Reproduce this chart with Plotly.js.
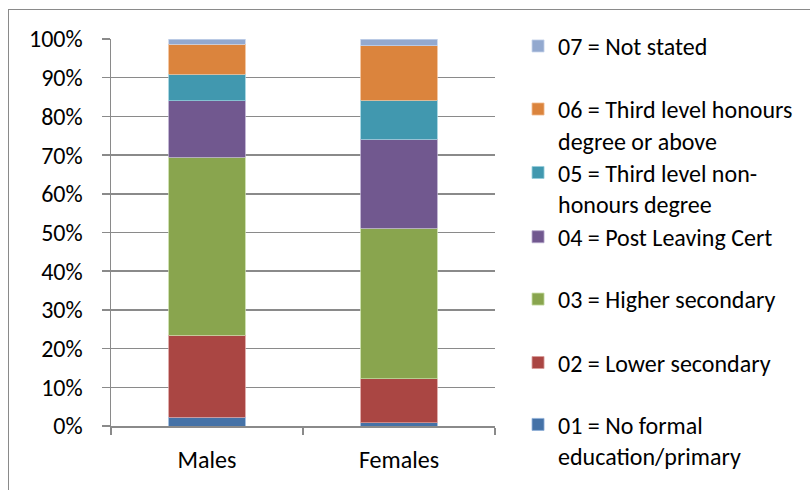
<!DOCTYPE html>
<html>
<head>
<meta charset="utf-8">
<script src="https://cdn.plot.ly/plotly-3.0.1.min.js"></script>
<style>
  html, body { margin: 0; padding: 0; background: #fff; overflow: hidden; }
  #wrap { position: relative; width: 810px; height: 490px; }
  #frame { position: absolute; left: 8px; top: 9px; width: 900px; height: 600px;
           border-left: 1.5px solid #8a8a8a; border-top: 1.5px solid #8a8a8a; pointer-events: none; }
  #chart { position: absolute; left: 0; top: 0; width: 810px; height: 490px; }
</style>
</head>
<body>
<div id="wrap">
  <div id="chart"></div>
  <div id="frame"></div>
</div>
<script>
const categories = ["Males", "Females"];
const seriesNames = [
  "01 = No formal<br>education/primary",
  "02 = Lower secondary",
  "03 = Higher secondary",
  "04 = Post Leaving Cert",
  "05 = Third level non-<br>honours degree",
  "06 = Third level honours<br>degree or above",
  "07 = Not stated"
];
const s01 = [2.3, 0.8];
const s02 = [21.2, 11.4];
const s03 = [46.0, 38.9];
const s04 = [14.6, 23.0];
const s05 = [6.8, 10.1];
const s06 = [7.8, 14.1];
const s07 = [1.3, 1.7];
const seriesValues = [s01, s02, s03, s04, s05, s06, s07];
const colors = ["#4572A7", "#AA4643", "#89A54E", "#71588F", "#4198AF", "#DB843D", "#93A9CF"];
const edgeColors = ["#8fb0d8", "#d89a98", "#c3d9a0", "#b4a5c9", "#96cddb", "#f0b98c", "#c4d2ea"];
const tickVals = [0, 10, 20, 30, 40, 50, 60, 70, 80, 90, 100];
const tickText = ["0%", "10%", "20%", "30%", "40%", "50%", "60%", "70%", "80%", "90%", "100%"];

const FONT = 'Calibri, Carlito, "Open Sans", sans-serif';
const FS = 24;
const legendIds = ["legend7", "legend6", "legend5", "legend4", "legend3", "legend2", "legend"];
// legend vertical centres (paper)
const legendY = [-0.037, 0.163, 0.327, 0.488, 0.614, 0.778, 0.981];

const traces = seriesValues.map((vals, i) => ({
  type: "bar",
  name: seriesNames[i],
  x: categories,
  y: vals,
  marker: { color: colors[i], line: { color: edgeColors[i], width: 0.8 } },
  legend: legendIds[i],
  hoverinfo: "skip"
}));

const layout = {
  width: 810, height: 490,
  margin: { l: 111, r: 314, t: 38.5, b: 61.5, pad: 0 },
  paper_bgcolor: "rgba(0,0,0,0)",
  plot_bgcolor: "#ffffff",
  barmode: "stack",
  bargap: 0.6,
  font: { family: FONT, size: FS, color: "#000000" },
  xaxis: {
    type: "category",
    showgrid: false,
    showline: true, linecolor: "#8a8a8a", linewidth: 1.5,
    ticks: "outside", tickson: "boundaries", ticklen: 7, tickcolor: "#8a8a8a", tickwidth: 1.5,
    tickfont: { family: FONT, size: FS },
    ticklabelstandoff: 12,
    fixedrange: true
  },
  yaxis: {
    range: [0, 100],
    tickvals: tickVals, ticktext: tickText,
    showgrid: true, gridcolor: "#8a8a8a", gridwidth: 1.5,
    showline: true, linecolor: "#8a8a8a", linewidth: 1.5,
    ticks: "outside", ticklen: 8, tickcolor: "#8a8a8a", tickwidth: 1.5,
    tickfont: { family: FONT, size: FS },
    ticklabelstandoff: 14,
    zeroline: false,
    fixedrange: true
  },
  showlegend: true
};
legendIds.forEach((id, i) => {
  layout[id] = {
    x: 1.06, xanchor: "left",
    y: legendY[i], yanchor: "middle",
    valign: "top",
    bgcolor: "rgba(0,0,0,0)", borderwidth: 0,
    font: { family: FONT, size: FS, color: "#000" },
    itemwidth: 30, itemclick: false, itemdoubleclick: false
  };
});

Plotly.newPlot("chart", traces, layout, { displayModeBar: false, staticPlot: true });
</script>
</body>
</html>
